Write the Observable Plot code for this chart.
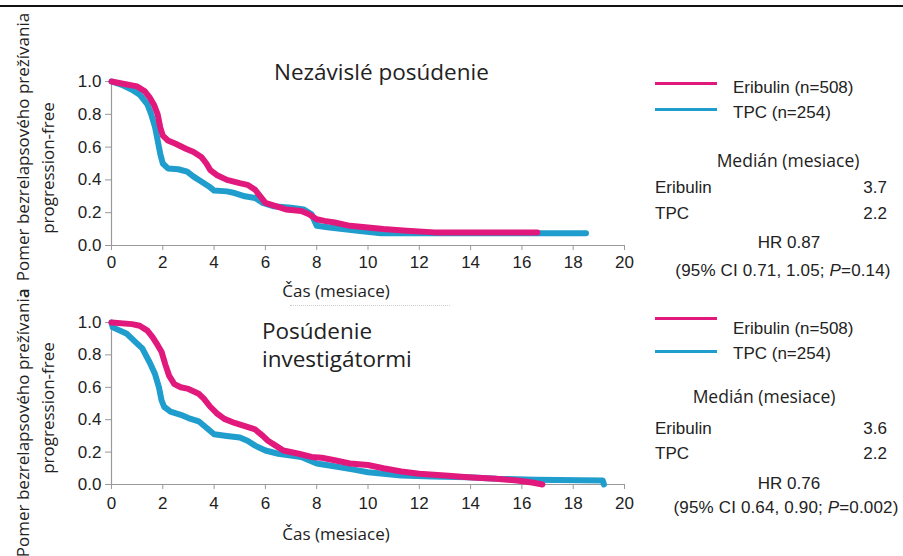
<!DOCTYPE html>
<html><head><meta charset="utf-8">
<script src="https://cdn.jsdelivr.net/npm/d3@7"></script>
<script src="https://cdn.jsdelivr.net/npm/@observablehq/plot@0.6"></script>
<style>
body{margin:0;background:#fff;}
#wrap{position:relative;width:903px;height:556px;overflow:hidden;font-family:"Liberation Sans",Arial,sans-serif;color:#222;}
.abs{position:absolute;white-space:nowrap;line-height:1;}
.vc{transform:translateY(-50%);}
.cc{transform:translate(-50%,-50%);}
.rc{transform:translate(-100%,-50%);}
.rot{transform:translate(-50%,-50%) rotate(-90deg);font-family:"Open Sans",sans-serif;font-size:17px;color:#222;}
.os{font-family:"Open Sans",sans-serif;color:#222;}
.sw{position:absolute;height:3px;width:62px;}
.lg{font-size:17px;}
.ci{font-size:17px;letter-spacing:0.15px;}
#topRule{position:absolute;left:0;top:5px;width:903px;height:2px;background:#111;}
#dots{position:absolute;left:290px;top:305px;width:160px;border-top:1px dotted #ccc;}
svg{overflow:visible;}
</style>
</head><body>
<div id="wrap">
  <div id="topRule"></div>
  <div id="dots"></div>
  <div id="p1" style="position:absolute;left:0;top:0;"></div>
  <div id="p2" style="position:absolute;left:0;top:295px;"></div>
</div>
<script>
// ---------- data ----------
const seriesNames = ["Eribulin", "TPC"];
const seriesColors = ["#e2197c", "#1f9dcd"];
const xTicks = [0, 2, 4, 6, 8, 10, 12, 14, 16, 18, 20];
const yTicks = [0, 0.2, 0.4, 0.6, 0.8, 1.0];

// Panel 1: Nezávislé posúdenie
const indepEribulinTime = [0, 0.5, 1.0, 1.3, 1.5, 1.65, 1.8, 1.9, 2.0, 2.2, 2.5, 2.9, 3.2, 3.5, 3.7, 3.85, 4.1, 4.5, 5.0, 5.3, 5.6, 5.8, 6.0, 6.4, 6.8, 7.4, 7.7, 8.0, 8.3, 8.7, 9.3, 10.0, 10.6, 11.5, 12.6, 16.6];
const indepEribulinSurv = [1.0, 0.985, 0.97, 0.94, 0.90, 0.86, 0.80, 0.72, 0.67, 0.64, 0.62, 0.59, 0.57, 0.54, 0.50, 0.46, 0.43, 0.40, 0.38, 0.37, 0.34, 0.30, 0.26, 0.24, 0.22, 0.21, 0.19, 0.16, 0.15, 0.14, 0.12, 0.11, 0.10, 0.09, 0.08, 0.08];
const indepTPCTime = [0, 0.4, 0.8, 1.1, 1.4, 1.55, 1.7, 1.8, 1.9, 2.0, 2.2, 2.6, 2.95, 3.2, 3.5, 3.8, 4.0, 4.5, 4.8, 5.2, 5.6, 5.9, 6.3, 7.0, 7.5, 7.8, 8.0, 8.5, 9.6, 10.5, 18.5];
const indepTPCSurv = [1.0, 0.98, 0.95, 0.92, 0.86, 0.80, 0.72, 0.64, 0.56, 0.50, 0.47, 0.465, 0.45, 0.42, 0.39, 0.36, 0.335, 0.33, 0.32, 0.30, 0.29, 0.26, 0.24, 0.23, 0.22, 0.19, 0.12, 0.11, 0.09, 0.075, 0.075];

// Panel 2: Posúdenie investigátormi
const invEribulinTime = [0, 0.8, 1.1, 1.4, 1.6, 1.8, 1.95, 2.1, 2.25, 2.45, 2.7, 3.0, 3.4, 3.6, 3.85, 4.1, 4.4, 4.8, 5.2, 5.6, 5.9, 6.1, 6.4, 6.7, 7.3, 7.8, 8.2, 8.7, 9.3, 10.0, 10.6, 11.3, 12.0, 13.0, 13.9, 15.0, 15.8, 16.4, 16.8];
const invEribulinSurv = [1.0, 0.99, 0.98, 0.95, 0.91, 0.86, 0.82, 0.74, 0.67, 0.62, 0.60, 0.59, 0.56, 0.53, 0.48, 0.44, 0.405, 0.38, 0.36, 0.34, 0.30, 0.27, 0.24, 0.21, 0.19, 0.17, 0.165, 0.15, 0.13, 0.12, 0.10, 0.08, 0.066, 0.055, 0.045, 0.035, 0.025, 0.012, 0.0];
const invTPCTime = [0, 0.05, 0.6, 1.0, 1.2, 1.5, 1.7, 1.85, 1.95, 2.05, 2.3, 2.7, 3.0, 3.4, 3.7, 4.0, 4.5, 5.0, 5.3, 5.6, 6.0, 6.5, 7.4, 8.0, 8.8, 9.5, 10.0, 11.3, 12.5, 13.9, 15.0, 16.5, 19.15, 19.2];
const invTPCSurv = [1.0, 0.97, 0.93, 0.87, 0.84, 0.75, 0.68, 0.60, 0.52, 0.48, 0.45, 0.43, 0.41, 0.39, 0.35, 0.31, 0.30, 0.29, 0.27, 0.24, 0.21, 0.19, 0.17, 0.13, 0.11, 0.09, 0.076, 0.055, 0.05, 0.045, 0.035, 0.03, 0.025, 0.0];

const panelTitles = [["Nezávislé posúdenie"], ["Posúdenie", "investigátormi"]];
const legendLabels = ["Eribulin (n=508)", "TPC (n=254)"];
const medianHeader = "Medián (mesiace)";
const medians = [[3.7, 2.2], [3.6, 2.2]];
const hrText = ["HR 0.87", "HR 0.76"];
const ciParts = [["(95% CI 0.71, 1.05; ", "P", "=0.14)"], ["(95% CI 0.64, 0.90; ", "P", "=0.002)"]];
const xLabel = "Čas (mesiace)";
const yLabel = ["Pomer bezrelapsového prežívania", "progression-free"];
const panelLetter = "a";

// ---------- chart ----------
function toRows(t, s, name) { return t.map((d, i) => ({time: d, surv: s[i], group: name})); }

function panel(eT, eS, tT, tS, h, mt, mb, pad) {
  const eri = toRows(eT, eS, seriesNames[0]);
  const tpc = toRows(tT, tS, seriesNames[1]);
  return Plot.plot({
    width: 640, height: h,
    marginLeft: 111, marginRight: 16, marginTop: mt, marginBottom: mb,
    style: {background: "transparent", fontFamily: "Liberation Sans, Arial, sans-serif", fontSize: "17px", color: "#222", overflow: "visible"},
    x: {domain: [0, 20]},
    y: {domain: [0, 1]},
    color: {domain: seriesNames, range: seriesColors},
    marks: [
      Plot.axisX({ticks: xTicks, tickSize: 5, tickPadding: pad, stroke: "#999", fill: "#222", label: null, tickFormat: d => String(d)}),
      Plot.axisY({ticks: yTicks, tickSize: 6, tickPadding: 4, stroke: "#999", fill: "#222", label: null, tickFormat: d => d.toFixed(1)}),
      Plot.ruleY([0], {stroke: "#999", strokeWidth: 1.2}),
      Plot.ruleX([0], {stroke: "#999", strokeWidth: 1.2}),
      Plot.line(tpc, {x: "time", y: "surv", stroke: "group", strokeWidth: 6, curve: "linear", strokeLinejoin: "round"}),
      Plot.line(eri, {x: "time", y: "surv", stroke: "group", strokeWidth: 6, curve: "linear", strokeLinejoin: "round"})
    ]
  });
}

document.getElementById("p1").appendChild(panel(indepEribulinTime, indepEribulinSurv, indepTPCTime, indepTPCSurv, 300, 81, 55, 5));
document.getElementById("p2").appendChild(panel(invEribulinTime, invEribulinSurv, invTPCTime, invTPCSurv, 261, 27, 72, 7));

// ---------- text & legends ----------
const wrap = document.getElementById("wrap");
function add(html, cls, left, top, style) {
  const d = document.createElement("div");
  d.className = "abs " + cls;
  d.style.left = left + "px"; d.style.top = top + "px";
  if (style) d.style.cssText += style;
  d.innerHTML = html;
  wrap.appendChild(d);
  return d;
}
function sw(color, left, top) {
  const d = document.createElement("div");
  d.className = "sw"; d.style.background = color;
  d.style.left = left + "px"; d.style.top = (top - 1.5) + "px";
  wrap.appendChild(d);
}

// titles
add(panelTitles[0][0], "os vc", 274, 72, "font-size:22.5px;");
add(panelTitles[1][0], "os vc", 262, 331, "font-size:22.5px;");
add(panelTitles[1][1], "os vc", 262, 359, "font-size:22.5px;");

// x labels
add(xLabel, "os cc", 336, 290, "font-size:17px;");
add(xLabel, "os cc", 336, 533, "font-size:17px;");

// y labels
add(yLabel[0], "rot", 22, 147);
add(yLabel[1], "rot", 47, 168);
add(panelLetter, "rot", 22, 293);
add(yLabel[0], "rot", 22, 423);
add(yLabel[1], "rot", 47, 408);

// legends
const L = [
  {swY: [83, 109], txtY: [87, 112], medY: 161, rowY: [187, 213], hrY: 242, ciY: 270, medX: 788, ciX: 783},
  {swY: [318, 351], txtY: [328, 353], medY: 397, rowY: [428, 453], hrY: 483, ciY: 507, medX: 764, ciX: 786}
];
L.forEach((p, k) => {
  seriesNames.forEach((n, i) => {
    sw(seriesColors[i], 655, p.swY[i]);
    add(legendLabels[i], "vc lg", 733, p.txtY[i]);
    add(n, "vc lg", 655, p.rowY[i]);
    add(medians[k][i].toFixed(1), "rc lg", 887, p.rowY[i]);
  });
  add(medianHeader, "os cc", p.medX, p.medY, "font-size:17.5px;");
  add(hrText[k], "cc lg", 789, p.hrY);
  add(ciParts[k][0] + "<i>" + ciParts[k][1] + "</i>" + ciParts[k][2], "cc ci", p.ciX, p.ciY);
});
</script>
</body></html>
